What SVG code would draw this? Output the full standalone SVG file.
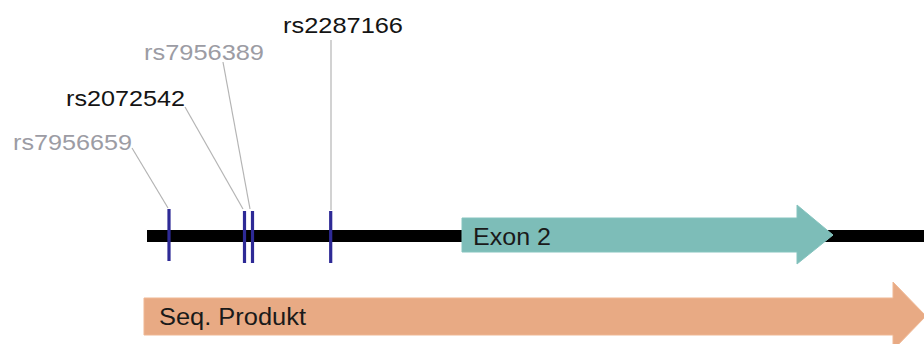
<svg xmlns="http://www.w3.org/2000/svg" width="924" height="344" viewBox="0 0 924 344">
  <style>
    .lbl { font-family: "Liberation Sans", Arial, sans-serif; font-size: 22px; }
    .dark { fill: #141414; }
    .grey { fill: #9c9ca4; }
    .feat { font-family: "Liberation Sans", Arial, sans-serif; font-size: 23px; fill: #1a1a1a; }
    .leader { stroke: #b4b4b4; stroke-width: 1.2; fill: none; }
    .snp { stroke: #2e2a96; stroke-width: 3.2; }
  </style>
  <rect width="924" height="344" fill="#ffffff"/>

  <!-- gene backbone -->
  <g id="backbone">
    <rect x="147" y="230" width="777" height="12" fill="#000000"/>
  </g>

  <!-- exon 2 feature arrow -->
  <g id="exon2">
    <path d="M462,218 H797 V205 L833,235 L797,264 V252 H462 Z" fill="#7dbdb8" stroke="#86c4bf" stroke-width="1"/>
    <text class="feat" x="473" y="244.5" textLength="78" lengthAdjust="spacingAndGlyphs">Exon 2</text>
  </g>

  <!-- sequenced product arrow -->
  <g id="seq-produkt">
    <path d="M144,298 H893 V282 L926,316 L893,350 V335 H144 Z" fill="#e8aa84" stroke="#efb793" stroke-width="1"/>
    <text class="feat" x="159" y="325" textLength="147" lengthAdjust="spacingAndGlyphs">Seq. Produkt</text>
  </g>

  <!-- leader lines from labels to SNP positions -->
  <g id="connectors">
    <line class="leader" x1="132" y1="148" x2="168" y2="208"/>
    <line class="leader" x1="185" y1="107" x2="243" y2="209"/>
    <line class="leader" x1="223" y1="62" x2="250" y2="209"/>
    <line class="leader" x1="331" y1="40" x2="331" y2="210"/>
  </g>

  <!-- SNP markers -->
  <g id="snp-rs7956659">
    <line class="snp" x1="169" y1="209" x2="169" y2="261"/>
    <text class="lbl grey" x="13" y="150" textLength="119" lengthAdjust="spacingAndGlyphs">rs7956659</text>
  </g>
  <g id="snp-rs2072542">
    <line class="snp" x1="244.5" y1="211" x2="244.5" y2="263"/>
    <text class="lbl dark" x="66" y="106" textLength="119" lengthAdjust="spacingAndGlyphs">rs2072542</text>
  </g>
  <g id="snp-rs7956389">
    <line class="snp" x1="252.5" y1="211" x2="252.5" y2="263"/>
    <text class="lbl grey" x="144" y="60" textLength="120" lengthAdjust="spacingAndGlyphs">rs7956389</text>
  </g>
  <g id="snp-rs2287166">
    <line class="snp" x1="330.7" y1="211" x2="330.7" y2="263"/>
    <text class="lbl dark" x="283" y="33" textLength="120" lengthAdjust="spacingAndGlyphs">rs2287166</text>
  </g>
</svg>
